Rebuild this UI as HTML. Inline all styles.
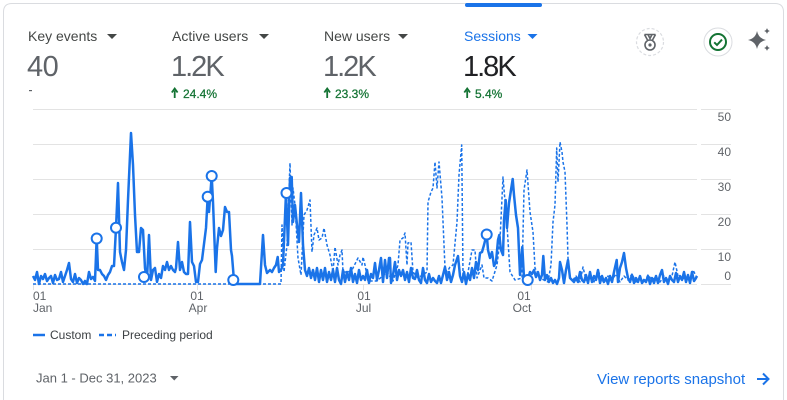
<!DOCTYPE html>
<html>
<head>
<meta charset="utf-8">
<style>
  html,body{margin:0;padding:0;background:#fff;}
  body{width:787px;height:400px;overflow:hidden;}
  svg{display:block;}
  text{font-family:"Liberation Sans",Arial,sans-serif;}
</style>
</head>
<body>
<svg width="787" height="400" viewBox="0 0 787 400" xmlns="http://www.w3.org/2000/svg">
  <!-- card -->
  <path d="M3.5,404 L3.5,12 Q3.5,3.5 12,3.5 L775,3.5 Q783.5,3.5 783.5,12 L783.5,404" fill="#fff" stroke="#dadce0" stroke-width="1"/>
  <!-- sessions active bar -->
  <rect x="465" y="3" width="77" height="4" rx="2" fill="#1a73e8"/>

  <!-- metric headers -->
  <text x="28" y="41" font-size="14" fill="#444746">Key events</text>
  <polygon points="107,34 117,34 112,39" fill="#444746"/>
  <text x="27" y="76" font-size="29" fill="#5f6368" letter-spacing="-0.5">40</text>
  <rect x="29" y="90" width="3" height="1.2" fill="#5f6368"/>

  <text x="172" y="41" font-size="14" fill="#444746">Active users</text>
  <polygon points="259,34 269,34 264,39" fill="#444746"/>
  <text x="171" y="76" font-size="29" fill="#5f6368" letter-spacing="-2">1.2K</text>
  <path d="M174.7,98 L174.7,90.5 M171.8,92.5 L174.7,88.5 L177.6,92.5" fill="none" stroke="#137333" stroke-width="1.8"/>
  <text x="183" y="98" font-size="12" fill="#137333" stroke="#137333" stroke-width="0.25">24.4%</text>

  <text x="324" y="41" font-size="14" fill="#444746">New users</text>
  <polygon points="398,34 408,34 403,39" fill="#444746"/>
  <text x="323" y="76" font-size="29" fill="#5f6368" letter-spacing="-2">1.2K</text>
  <path d="M327.2,98 L327.2,90.5 M324.3,92.5 L327.2,88.5 L330.1,92.5" fill="none" stroke="#137333" stroke-width="1.8"/>
  <text x="335" y="98" font-size="12" fill="#137333" stroke="#137333" stroke-width="0.25">23.3%</text>

  <text x="464" y="41" font-size="14" fill="#1a73e8">Sessions</text>
  <polygon points="527.5,34 537.5,34 532.5,39" fill="#1a73e8"/>
  <text x="463" y="76" font-size="29" fill="#202124" letter-spacing="-2">1.8K</text>
  <path d="M467.2,98 L467.2,90.5 M464.3,92.5 L467.2,88.5 L470.1,92.5" fill="none" stroke="#137333" stroke-width="1.8"/>
  <text x="475" y="98" font-size="12" fill="#137333" stroke="#137333" stroke-width="0.25">5.4%</text>

  <!-- icons -->
  <circle cx="650" cy="42" r="13.5" fill="#fff" stroke="#dadce0" stroke-width="1.2" stroke-dasharray="3,2"/>
  <g fill="none" stroke="#5f6368" stroke-width="1.6">
    <path d="M644.5,34.5 L647.5,40 M655.5,34.5 L652.5,40 M644.5,34.5 L655.5,34.5 M648,34.5 L650,38.5 L652,34.5"/>
    <circle cx="650" cy="45" r="5"/>
  </g>
  <circle cx="650" cy="45" r="1.6" fill="#5f6368"/>

  <circle cx="718" cy="42" r="14" fill="#fff" stroke="#dadce0" stroke-width="1"/>
  <circle cx="718" cy="42" r="8" fill="none" stroke="#137333" stroke-width="2"/>
  <path d="M714.2,42.3 L717,45 L722,39.6" fill="none" stroke="#137333" stroke-width="2"/>

  <g fill="#5f6368">
    <path d="M757,31 Q758.5,38.5 766,40 Q758.5,41.5 757,49 Q755.5,41.5 748,40 Q755.5,38.5 757,31 Z"/>
    <path d="M767,28 Q767.6,30.4 770,31 Q767.6,31.6 767,34 Q766.4,31.6 764,31 Q766.4,30.4 767,28 Z"/>
    <path d="M767,45 Q767.6,47.4 770,48 Q767.6,48.6 767,51 Q766.4,48.6 764,48 Q766.4,47.4 767,45 Z"/>
  </g>

  <!-- grid -->
  <g stroke="#e3e3e3" stroke-width="1">
    <line x1="33" y1="109.5" x2="697" y2="109.5"/>
    <line x1="33" y1="144.5" x2="697" y2="144.5"/>
    <line x1="33" y1="179.5" x2="697" y2="179.5"/>
    <line x1="33" y1="214.5" x2="697" y2="214.5"/>
    <line x1="33" y1="249.5" x2="697" y2="249.5"/>
    <line x1="33" y1="284.5" x2="697" y2="284.5"/>
    <line x1="701" y1="109.5" x2="731" y2="109.5"/>
    <line x1="701" y1="144.5" x2="731" y2="144.5"/>
    <line x1="701" y1="179.5" x2="731" y2="179.5"/>
    <line x1="701" y1="214.5" x2="731" y2="214.5"/>
    <line x1="701" y1="249.5" x2="731" y2="249.5"/>
    <line x1="701" y1="284.5" x2="731" y2="284.5"/>
    <line x1="33.5" y1="284" x2="33.5" y2="290"/>
    <line x1="197.5" y1="284" x2="197.5" y2="290"/>
    <line x1="363.5" y1="284" x2="363.5" y2="290"/>
    <line x1="531.5" y1="284" x2="531.5" y2="290"/>
  </g>

  <!-- y labels -->
  <g font-size="12" fill="#5f6368" text-anchor="end">
    <text x="731" y="121">50</text>
    <text x="731" y="156">40</text>
    <text x="731" y="191">30</text>
    <text x="731" y="226">20</text>
    <text x="731" y="261">10</text>
    <text x="731" y="280">0</text>
  </g>

  <!-- x labels -->
  <g font-size="12" fill="#5f6368">
    <text x="33" y="300">01</text>
    <text x="33" y="312">Jan</text>
    <text x="197" y="300" text-anchor="middle">01</text>
    <text x="198" y="312" text-anchor="middle">Apr</text>
    <text x="364" y="300" text-anchor="middle">01</text>
    <text x="363.5" y="312" text-anchor="middle">Jul</text>
    <text x="524" y="300" text-anchor="middle">01</text>
    <text x="522" y="312" text-anchor="middle">Oct</text>
  </g>

  <!-- preceding period (dashed) -->
  <polyline fill="none" stroke="#1a73e8" stroke-width="1.5" stroke-dasharray="3,2" stroke-linejoin="round"
    points="33,284 281,284 282,225 284,272 287,245 290,163 292,225 293,188 295,205 298,258 301,275 304,215 307,210 310,200 312,252 314,235 317,228 319,240 322,238 324,228 327,245 330,255 333,272 335,247 338,265 340,255 342,250 343,272 348,272 352,270 358,258 362,265 363,257 365,265 368,281 377,281 387,272 393,281 398,265 400,240 403,238 405,233 407,265 408,243 411,242 413,272 418,278 427,272 428,202 431,192 433,188 435,162 437,188 439,162 442,198 445,268 447,272 450,267 453,265 457,222 459,175 461.7,145 463,275 467,278 472,250 475,250 477,278 482,265 484,278 488,278 492,281 497,265 500,240 503,177 507,225 510,272 515,280 522,278 524,190 527,170 530,212 533,232 535,268 540,278 548,282 551,265 553,222 555,205 556.7,148 558,182 560,142 562,152 563,162 565,172 567,225 568,258 570,278 573,280 576,276 580,282 583,267 586,280 590,278 594,282 598,270 601,278 604,283 608,276 612,280 616,274 620,282 624,276 628,280 632,274 636,282 640,278 644,283 648,275 652,280 656,277 660,282 664,276 668,280 672,276 675,262 678,276 682,280 686,276 690,282 693,270 697,278"/>

  <!-- custom (solid) -->
  <polyline fill="none" stroke="#1a73e8" stroke-width="2.5" stroke-linejoin="round"
    points="33,276 35,280 37,272 39,284 41,276 43,279 45,274 47,281 49,278 51,276 53,283 55,275 57,280 59,279 61,272 63,282 65,276 67,270 69,263 71,279 73,282 75,274 77,283 79,278 81,280 83,284 85,281 87,284 89,272 91,279 93,277 95,281 96.7,238 98,270 100,270 102,274 104,276 106,280 108,275 110,272 112,266 114,266 116,228 118,183 120,252 122,262 124,270 126,250 128,200 131,133 133,165 135,215 137,252 139,252 141,228 143,230 145,268 147,280 149,235 151,280 153,270 155,268 157,282 159,274 161,278 163,266 165,270 167,262 169,270 171,266 173,270 175,272 176,268 178,242 180,270 182,262 184,272 186,274 188,274 190,222 192,262 194,266 196,282 198,282 200,264 202,260 204,244 206,228 207.7,197 209,212 211.7,176 213,202 215.7,272 217,248 219,228 221,236 223,230 225,207 227,212 229,212 231,250 232,256 233.3,272 234,282 236,284 260,284 263,235 265,265 267,273 270,270 272,272 274,268 276,265 277.7,257 279,272 281,270 283,265 286,193 288,245 290,178 291.7,177 293,222 295,205 297,225 299,242 301,193 303,245 305,270 307,276 309,268 311,278 313,270 315,280 317,268 319,282 321,270 323,280 325,268 327,282 329,272 331,280 333,270 335,282 337,268 339,280 341,284 343,270 345,282 347,272 349,280 351,268 353,282 355,274 357,283 359,270 361,280 363,276 365,280 367,270 369,283 371,274 373,278 375,263 377,280 379,270 381,258 383,282 385,260 387,278 389,258 390,258 391,283 393,275 395,262 397,280 399,270 401,276 403,270 405,280 407,272 409,282 411,268 413,278 415,279 417,270 419,280 421,283 423,268 425,280 427,283 429,274 431,282 433,278 435,281 437,283 439,276 441,283 443,275 445,267 447,280 449,272 451,282 453,275 455,265 458,256 460,276 462,282 464,272 466,284 468,274 470,280 472,268 474,278 476,262 478,270 480,253 482,252 484,245 486.7,234 488,250 490,258 492,252 494,266 496,262 498,240 499.3,235 501,250 503,255 504,220 505.7,200 507,228 509,203 511,190 512.7,179 514,195 516,215 518,228 520,275 522.3,247 524,278 527.7,280 530,272 532,274 534,270 536,277 538,272 540,280 542,275 543.3,256 545,280 547,275 549,282 551,278 553,283 555,280 557,284 559,278 560,262 562,270 564,283 566,270 568,260 570,278 572,280 574,282 576,278 578,282 580,272 582,280 584,282 586,275 588,283 590,272 592,282 594,276 596,280 598,270 600,283 602,276 604,282 606,278 608,284 610,276 612,282 614,272 616.7,260 618,282 620,268 622,262 624,253 626,268 628,278 630,282 632,275 634,283 636,278 638,282 640,276 642,283 644,280 646,282 648,276 650,284 652,278 654,283 656,276 658,283 660,275 662,270 664,282 666,278 668,284 670,276 672,280 674,282 676,273 678,282 680,276 682,280 684,272 686,282 688,275 690,283 692,272 694,281 696,278 697,276"/>

  <!-- markers -->
  <g fill="#fff" stroke="#1a73e8" stroke-width="2">
    <circle cx="96.7" cy="238.5" r="5"/>
    <circle cx="116" cy="227.7" r="5"/>
    <circle cx="144" cy="277" r="5"/>
    <circle cx="207.7" cy="196.7" r="5"/>
    <circle cx="211.7" cy="176" r="5"/>
    <circle cx="233.3" cy="280" r="5"/>
    <circle cx="286.5" cy="193" r="5"/>
    <circle cx="486.7" cy="234.5" r="5"/>
    <circle cx="527.7" cy="280" r="5"/>
  </g>

  <!-- legend -->
  <line x1="33" y1="335" x2="45" y2="335" stroke="#1a73e8" stroke-width="2.5"/>
  <text x="50" y="339" font-size="12" fill="#3c4043">Custom</text>
  <line x1="99" y1="335" x2="116" y2="335" stroke="#1a73e8" stroke-width="2.5" stroke-dasharray="5,3"/>
  <text x="122" y="339" font-size="12" fill="#3c4043">Preceding period</text>

  <!-- footer -->
  <text x="36" y="382.5" font-size="13" fill="#5f6368">Jan 1 - Dec 31, 2023</text>
  <polygon points="170,376 178.5,376 174.25,380.5" fill="#5f6368"/>
  <text x="597" y="384" font-size="15" fill="#1a73e8">View reports snapshot</text>
  <g stroke="#1a73e8" stroke-width="2" fill="none">
    <line x1="757" y1="379" x2="768" y2="379"/>
    <path d="M763,373.5 L768.5,379 L763,384.5"/>
  </g>
</svg>
</body>
</html>
